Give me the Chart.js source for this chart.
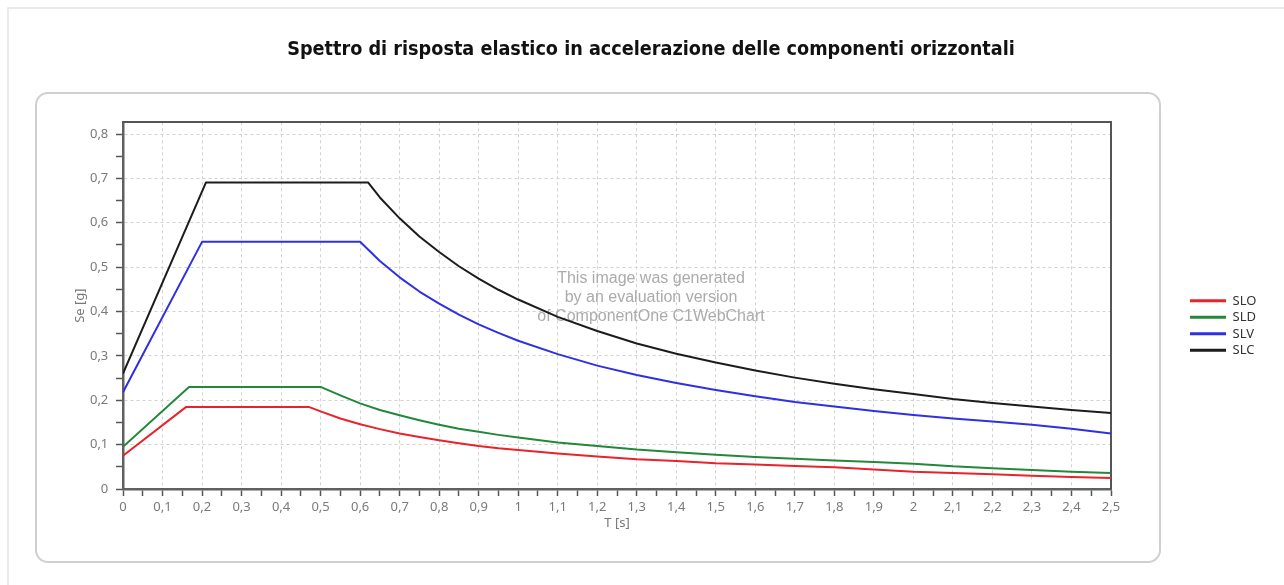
<!DOCTYPE html>
<html>
<head>
<meta charset="utf-8">
<title>Spettro di risposta elastico</title>
<script src="https://cdn.jsdelivr.net/npm/chart.js@4.4.1/dist/chart.umd.min.js"></script>
<style>
    html, body { margin: 0; padding: 0; background: #ffffff; }
    #contenitore { position: relative; width: 1284px; height: 585px; }
</style>
</head>
<body>
<div id="contenitore">
    <canvas id="graficoSpettro" width="1284" height="585"></canvas>
</div>
<script>

// Dati (T in secondi, Se in g)
const titolo = "Spettro di risposta elastico in accelerazione delle componenti orizzontali";
const nomiSerie = ["SLO", "SLD", "SLV", "SLC"];
const coloriSerie = ["#e8232b", "#23883a", "#2f2fe6", "#1c1c1c"];

const sloT  = [0, 0.16, 0.47, 0.5, 0.55, 0.6, 0.65, 0.7, 0.75, 0.8, 0.85, 0.9, 0.95, 1.0, 1.1, 1.2, 1.3, 1.4, 1.5, 1.6, 1.7, 1.8, 1.9, 2.0, 2.1, 2.2, 2.3, 2.4, 2.5];
const sloSe = [0.075, 0.185, 0.185, 0.175, 0.159, 0.146, 0.135, 0.125, 0.117, 0.110, 0.103, 0.097, 0.092, 0.088, 0.080, 0.073, 0.067, 0.063, 0.058, 0.055, 0.052, 0.049, 0.044, 0.039, 0.036, 0.033, 0.030, 0.027, 0.025];

const sldT  = [0, 0.167, 0.5, 0.55, 0.6, 0.65, 0.7, 0.75, 0.8, 0.85, 0.9, 0.95, 1.0, 1.1, 1.2, 1.3, 1.4, 1.5, 1.6, 1.7, 1.8, 1.9, 2.0, 2.1, 2.2, 2.3, 2.4, 2.5];
const sldSe = [0.095, 0.230, 0.230, 0.211, 0.193, 0.178, 0.166, 0.155, 0.145, 0.136, 0.129, 0.122, 0.116, 0.105, 0.097, 0.089, 0.083, 0.077, 0.072, 0.068, 0.064, 0.061, 0.057, 0.051, 0.047, 0.043, 0.039, 0.036];

const slvT  = [0, 0.2, 0.6, 0.65, 0.7, 0.75, 0.8, 0.85, 0.9, 0.95, 1.0, 1.1, 1.2, 1.3, 1.4, 1.5, 1.6, 1.7, 1.8, 1.9, 2.0, 2.1, 2.2, 2.3, 2.4, 2.5];
const slvSe = [0.218, 0.557, 0.557, 0.514, 0.477, 0.445, 0.418, 0.393, 0.371, 0.352, 0.334, 0.304, 0.278, 0.257, 0.239, 0.223, 0.209, 0.196, 0.186, 0.176, 0.167, 0.159, 0.152, 0.145, 0.136, 0.125];

const slcT  = [0, 0.21, 0.62, 0.65, 0.7, 0.75, 0.8, 0.85, 0.9, 0.95, 1.0, 1.1, 1.2, 1.3, 1.4, 1.5, 1.6, 1.7, 1.8, 1.9, 2.0, 2.1, 2.2, 2.3, 2.4, 2.5];
const slcSe = [0.26, 0.691, 0.691, 0.657, 0.610, 0.569, 0.534, 0.502, 0.474, 0.449, 0.427, 0.388, 0.356, 0.328, 0.305, 0.285, 0.267, 0.251, 0.237, 0.225, 0.214, 0.203, 0.194, 0.186, 0.178, 0.171];

const filigrana = [
    "This image was generated",
    "by an evaluation version",
    "of ComponentOne C1WebChart"
];

const serieT  = [sloT, sldT, slvT, slcT];
const serieSe = [sloSe, sldSe, slvSe, slcSe];

// ==========================
// Misure per l'impaginazione
// ==========================

const fontBase = '"Noto Sans", "DejaVu Sans", sans-serif';
const fontTitolo = '"DejaVu Sans Condensed", "DejaVu Sans", sans-serif';

function larghezzaTesto(font, testo) {
    const c = document.createElement("canvas").getContext("2d");
    c.font = font;
    return c.measureText(testo).width;
}

const dimTitolo = 728 / larghezzaTesto("bold 100px " + fontTitolo, titolo) * 100;
const altTitolo = dimTitolo * 1.2;

const larghezzaLegenda = 4.5 + 36 + 6.5 + 10 +
    Math.max(...nomiSerie.map(n => larghezzaTesto("13px " + fontBase, n)));
const padDestra = 1284 - 1185.5 - larghezzaLegenda;
const padSinistra = padDestra + 18;

const areaSinistra = 123;
const areaDestra = 1110;
const areaAlto = 122.3;
const areaBasso = 489;

function tickPrincipale(valore) {
    return Math.round(valore * 20) % 2 === 0;
}

function etichetta(valore) {
    if (!tickPrincipale(valore)) return "";
    return String(parseFloat(valore.toFixed(1))).replace(".", ",");
}

const coloreGriglia = "#d2d2d2";

// ==========================
// Plugin di contorno
// ==========================

const cornice = {
    id: "cornice",
    beforeDraw(chart) {
        const ctx = chart.ctx;
        ctx.save();
        ctx.strokeStyle = "#e4e4e4";
        ctx.lineWidth = 1.5;
        ctx.beginPath();
        ctx.moveTo(8, 585);
        ctx.lineTo(8, 8);
        ctx.lineTo(1284, 8);
        ctx.stroke();

        ctx.strokeStyle = "#d0d0d0";
        ctx.lineWidth = 2;
        ctx.beginPath();
        ctx.roundRect(36, 93, 1124, 469, 12);
        ctx.stroke();
        ctx.restore();
    },
    beforeDatasetsDraw(chart) {
        const ctx = chart.ctx;
        ctx.save();
        ctx.font = '16px "Liberation Sans", Arial, sans-serif';
        ctx.fillStyle = "#ababab";
        ctx.textAlign = "center";
        ctx.textBaseline = "middle";
        filigrana.forEach((riga, i) => {
            ctx.fillText(riga, 651, 279 + i * 19);
        });
        ctx.restore();
    }
};

// ==========================
// Grafico
// ==========================

const ctxSpettro = document.getElementById("graficoSpettro").getContext("2d");

new Chart(ctxSpettro, {

    type: "line",

    data: {
        datasets: nomiSerie.map((nome, i) => ({
            label: nome,
            data: serieT[i].map((t, j) => ({ x: t, y: serieSe[i][j] })),
            borderColor: coloriSerie[i],
            backgroundColor: coloriSerie[i],
            borderWidth: 2,
            borderJoinStyle: "round",
            pointRadius: 0,
            pointHoverRadius: 0,
            tension: 0,
            fill: false
        }))
    },

    options: {

        responsive: false,
        animation: false,
        devicePixelRatio: 1,

        layout: {
            padding: { left: padSinistra, right: padDestra, top: 0, bottom: 585 - areaBasso - 45 }
        },

        plugins: {

            title: {
                display: true,
                text: titolo,
                color: "#111111",
                font: { family: fontTitolo, size: dimTitolo, weight: "bold" },
                padding: { top: 50 - altTitolo / 2, bottom: areaAlto - (50 + altTitolo / 2) }
            },

            legend: {
                position: "right",
                fullSize: false,
                align: "center",
                title: {
                    display: true,
                    text: "",
                    font: { size: 12 },
                    padding: { top: 25.5, bottom: 0 }
                },
                labels: {
                    boxWidth: 36,
                    boxHeight: 3,
                    padding: 3.5,
                    color: "#333333",
                    font: { family: fontBase, size: 13 },
                    generateLabels(chart) {
                        const voci = Chart.defaults.plugins.legend.labels.generateLabels(chart);
                        voci.forEach(v => { v.lineWidth = 0; });
                        return voci;
                    }
                }
            },

            tooltip: { enabled: false }

        },

        scales: {

            x: {
                type: "linear",
                position: "bottom",
                min: 0,
                max: 2.5,
                afterFit(scala) { scala.height = 45; },
                ticks: {
                    stepSize: 0.05,
                    autoSkip: false,
                    maxRotation: 0,
                    padding: 3.7,
                    color: "#7a7a7a",
                    font: { family: fontBase, size: 13 },
                    callback: etichetta
                },
                grid: {
                    color: c => (c.tick && tickPrincipale(c.tick.value)) ? coloreGriglia : "rgba(0,0,0,0)",
                    lineWidth: 1,
                    tickColor: "#555555",
                    tickLength: 7,
                    tickWidth: 1.5
                },
                border: { display: true, color: "#606060", width: 2.5, dash: [3, 3] },
                title: {
                    display: true,
                    text: "T [s]",
                    color: "#777777",
                    font: { family: fontBase, size: 13 },
                    padding: { top: 0, bottom: 2.8 }
                }
            },

            y: {
                type: "linear",
                position: "left",
                min: 0,
                max: 0.8264,
                afterFit(scala) { scala.width = areaSinistra - padSinistra; },
                ticks: {
                    stepSize: 0.05,
                    includeBounds: false,
                    padding: 7.7,
                    color: "#7a7a7a",
                    font: { family: fontBase, size: 13 },
                    callback: etichetta
                },
                grid: {
                    color: c => (c.tick && tickPrincipale(c.tick.value)) ? coloreGriglia : "rgba(0,0,0,0)",
                    lineWidth: 1,
                    tickColor: "#555555",
                    tickLength: 7,
                    tickWidth: 1.5
                },
                border: { display: true, color: "#606060", width: 2.5, dash: [3, 3] },
                title: {
                    display: true,
                    text: "Se [g]",
                    color: "#777777",
                    font: { family: fontBase, size: 13 },
                    padding: { top: 80 - padSinistra - 7.8, bottom: 0 }
                }
            },

            // assi vuoti solo per il bordo superiore e destro dell'area
            xBordo: {
                type: "linear",
                position: "top",
                afterFit(scala) { scala.height = 0; },
                ticks: { display: false },
                grid: { display: false, drawTicks: false },
                border: { display: true, color: "#555555", width: 2 }
            },

            yBordo: {
                type: "linear",
                position: "right",
                afterFit(scala) { scala.width = 1185.5 - areaDestra; },
                ticks: { display: false },
                grid: { display: false, drawTicks: false },
                border: { display: true, color: "#555555", width: 2 }
            }

        }

    },

    plugins: [cornice]

});

</script>
</body>
</html>
